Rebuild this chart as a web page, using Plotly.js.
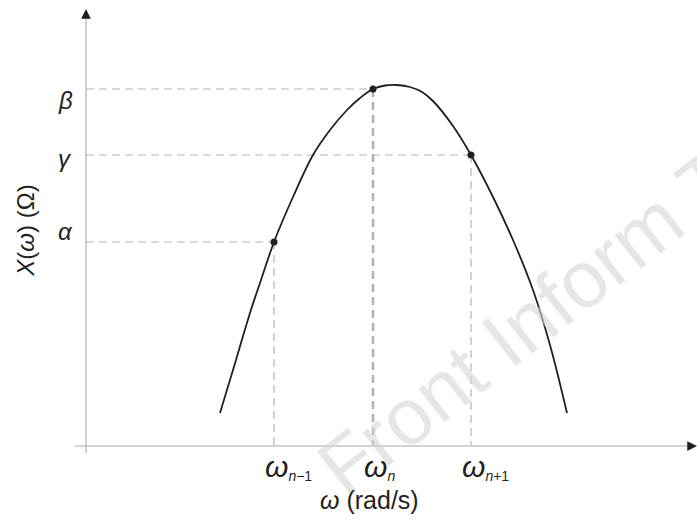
<!DOCTYPE html>
<html><head><meta charset="utf-8">
<script src="https://cdn.plot.ly/plotly-3.0.1.min.js"></script>
<style>html,body{margin:0;padding:0;background:#fff}#chart{width:697px;height:520px}</style>
</head><body><div id="chart"></div>
<script>
// Reactance curve X(ω) (arbitrary units)
const curveX = [1.34,1.47,1.64,1.76,1.88,2.07,2.27,2.44,2.61,2.74,2.87,2.99,3.11,3.24,3.36,3.47,3.67,3.85,4.07,4.27,4.47,4.64,4.81];
const curveY = [0.33,0.76,1.33,1.69,2.04,2.49,2.91,3.16,3.36,3.48,3.57,3.605,3.61,3.59,3.54,3.45,3.20,2.91,2.49,2.06,1.56,1.01,0.33];
// Sampled points
const freqX = [1.88, 2.87, 3.85];
const levelY = [2.04, 3.57, 2.91];
const freqLabels = ['<span style="font-size:30px"><i>ω</i></span><sub><i>n</i>−1</sub>', '<span style="font-size:30px"><i>ω</i></span><sub><i>n</i></sub>', '<span style="font-size:30px"><i>ω</i></span><sub><i>n</i>+1</sub>'];
const levelLabels = ['<i>α</i>', '<i>β</i>', '<i>γ</i>'];
const xTitle = '<i>ω</i> (rad/s)';
const yTitle = '<i>X</i>(<i>ω</i>) (Ω)';
const watermark = 'Front Inform Technol';

const ink = '#231f20';
const guide = '#b3b3b3';
const axisCol = '#c4c4c4';
const font = 'Liberation Sans, Arial, sans-serif';

const traces = [
  {x: curveX, y: curveY, type: 'scatter', mode: 'lines', line: {color: ink, width: 1.8, shape: 'spline', smoothing: 1}, hoverinfo: 'skip'},
  {x: freqX, y: levelY, type: 'scatter', mode: 'markers', marker: {color: ink, size: 7}, hoverinfo: 'skip'}
];

const shapes = [
  {type: 'line', xref: 'x', yref: 'y', x0: -0.11, x1: 6.06, y0: 0, y1: 0, line: {color: axisCol, width: 1.6}},
  {type: 'line', xref: 'x', yref: 'y', x0: 0, x1: 0, y0: -0.07, y1: 4.30, line: {color: axisCol, width: 1.6}}
];
freqX.forEach((fx, i) => {
  shapes.push({type: 'line', xref: 'x', yref: 'y', x0: 0, x1: fx, y0: levelY[i], y1: levelY[i], line: {color: guide, width: 1.2, dash: '8px,5px'}, layer: 'below'});
  shapes.push({type: 'line', xref: 'x', yref: 'y', x0: fx, x1: fx, y0: levelY[i], y1: 0, line: {color: guide, width: i === 1 ? 2.6 : 1.2, dash: '8px,5px'}, layer: 'below'});
});

const annotations = [];
// watermark (drawn first so other texts sit above it)
annotations.push({x: 0.872, y: 0.452, xref: 'paper', yref: 'paper', text: watermark, showarrow: false, textangle: -38, xanchor: 'center', yanchor: 'middle', font: {family: font, size: 80, color: '#d6d6d6'}, opacity: 0.6});
freqX.forEach((fx, i) => {
  annotations.push({x: fx, y: 0, xref: 'x', yref: 'y', text: freqLabels[i], showarrow: false, xanchor: 'left', yanchor: 'top', xshift: -11, yshift: -2, font: {family: font, size: 20, color: ink}});
});
levelY.forEach((ly, i) => {
  const shifts = [11, -11, -3];
  annotations.push({x: 0, y: ly, xref: 'x', yref: 'y', text: levelLabels[i], showarrow: false, xanchor: 'center', yanchor: 'middle', xshift: -21, yshift: shifts[i], font: {family: font, size: 24, color: ink}});
});
// x axis title
annotations.push({x: 0.477, y: -0.087, xref: 'paper', yref: 'paper', text: xTitle, showarrow: false, xanchor: 'center', yanchor: 'middle', font: {family: font, size: 25, color: ink}});
// axis arrowheads
annotations.push({x: 6.11, y: 0, xref: 'x', yref: 'y', ax: -9, ay: 0, showarrow: true, arrowhead: 2, arrowsize: 1.3, arrowwidth: 1.5, arrowcolor: ink, text: ''});
annotations.push({x: 0, y: 4.37, xref: 'x', yref: 'y', ax: 0, ay: 9, showarrow: true, arrowhead: 2, arrowsize: 1.3, arrowwidth: 1.5, arrowcolor: ink, text: ''});

const layout = {
  width: 697, height: 520,
  margin: {l: 70, r: 0, t: 0, b: 60},
  paper_bgcolor: '#fff', plot_bgcolor: '#fff',
  showlegend: false,
  font: {family: font, color: ink},
  xaxis: {range: [-0.16, 6.11], showgrid: false, zeroline: false, showline: false, showticklabels: false, ticks: '', automargin: false},
  yaxis: {range: [-0.14, 4.46], showgrid: false, zeroline: false, showline: false, showticklabels: false, ticks: '',
          title: {text: yTitle, font: {family: font, size: 24, color: ink}, standoff: 27}, automargin: false},
  shapes: shapes,
  annotations: annotations
};

Plotly.newPlot('chart', traces, layout, {staticPlot: true, displayModeBar: false});
</script>
</body></html>
